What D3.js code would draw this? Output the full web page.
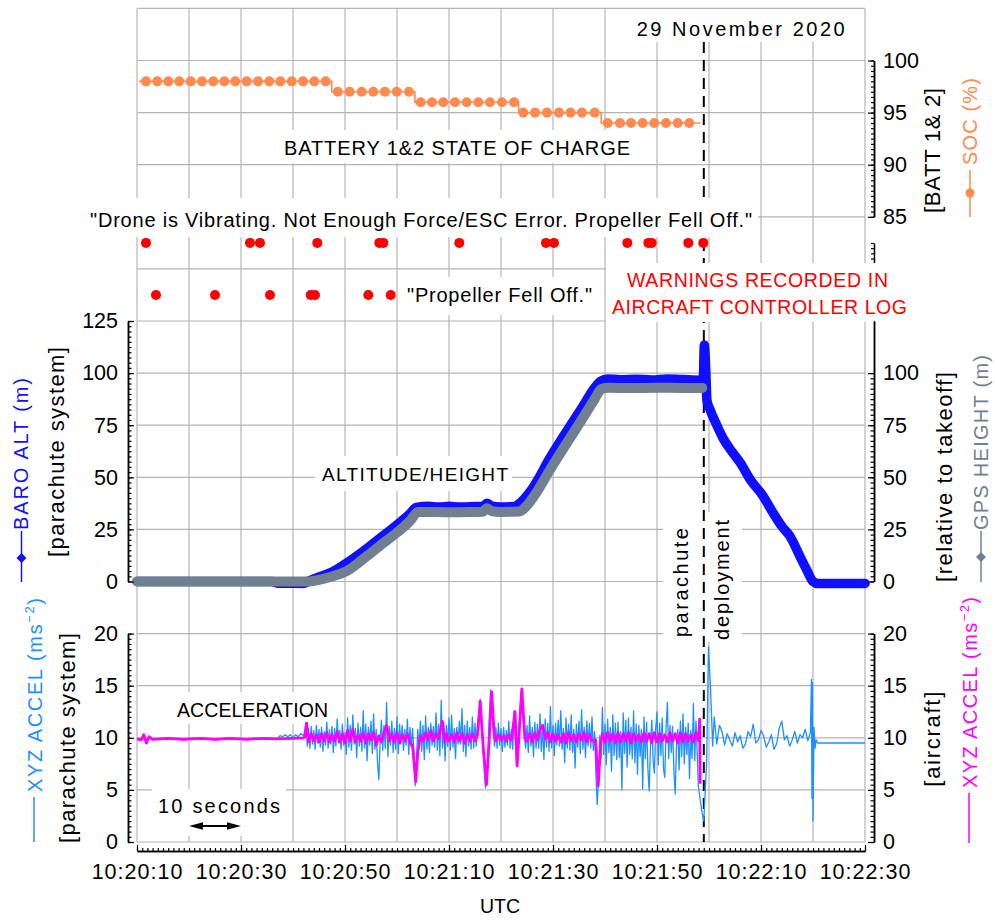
<!DOCTYPE html>
<html><head><meta charset="utf-8">
<script src="https://cdn.jsdelivr.net/npm/d3@7"></script>
<style>body{margin:0;background:#fff}svg{display:block}</style>
</head><body><svg id="c" width="995" height="920"></svg>
<script>
// ---------------- DATA (time in seconds after 10:20:10 UTC) ----------------
const timeTicks=[0,20,40,60,80,100,120,140];
const timeTickLabels=["10:20:10","10:20:30","10:20:50","10:21:10","10:21:30","10:21:50","10:22:10","10:22:30"];
const gridSeconds=[0,10,20,30,40,50,60,70,80,90,100,110,120,130,140];
const socTicks=[85,90,95,100];
const altTicksLeft=[0,25,50,75,100,125];
const altTicksRight=[0,25,50,75,100];
const accTicks=[0,5,10,15,20];
const socGrid=[80,85,90,95,100,105];
const altGrid=[-25,0,25,50,75,100,125];
const accGrid=[0,5,10,15];

// battery state of charge (%)
const socTimes=[1.73,3.90,6.02,8.13,10.33,12.5,14.67,16.79,18.90,21.09,23.27,25.44,27.56,29.75,31.92,34.10,36.29,
  38.6,40.9,43.2,45.44,47.69,49.94,52.31,
  54.56,56.73,58.9,61.15,63.4,65.63,67.88,70.19,72.5,
  74.29,76.54,78.85,81.15,83.37,85.58,88.02,
  90.52,92.88,95.0,97.25,99.48,101.73,103.98,106.21];
const socValues=[98,98,98,98,98,98,98,98,98,98,98,98,98,98,98,98,98,
  97,97,97,97,97,97,97,
  96,96,96,96,96,96,96,96,96,
  95,95,95,95,95,95,95,
  94,94,94,94,94,94,94,94];
const socLineStart=[0.4,98], socLineEnd=[108.3,94];

// warnings in aircraft controller log
const warnRows=["vibrating","propeller"];
const warnVibrating=[1.73,21.73,23.65,34.67,46.6,47.37,61.98,78.65,80.19,94.29,98.33,98.98,106.02,108.9];
const warnPropeller=[3.65,15.0,25.58,33.4,34.23,44.48,48.79];

// altitude / height (m)
const baroAlt=[[0,0],[26,0],[27,-0.8],[32,-0.9],[33,0.2],[35,2.2],[37.5,4.5],[40.4,9.0],[43.5,14.5],[46.7,20.8],[50,27.2],[52.5,32.5],[53.7,35.6],
  [56,36.1],[58,35.7],[60,36.1],[62,35.7],[64,35.9],[66.5,36.0],[67.3,37.5],[68.2,36.2],[70,35.8],[72.5,36.0],[74,38.5],[76,44.5],
  [79.4,59.3],[85.8,84.3],[88,93],[89.2,96.2],[90.5,97.2],[93,96.8],[96,97.1],[99,96.7],[102,97.2],[105,96.9],[108.4,96.6],
  [108.9,97],[109.1,113.5],[109.4,100],[109.6,87],[110.2,82.5],[111.5,75],[112.8,68.3],[114.5,62],[116,57],[117.9,49],[120.4,41],[122.3,33],
  [124,26.5],[125.6,21.6],[127.5,12],[128.8,5.5],[130,0],[131,-1],[140,-0.9]];
const gpsHeight=[[0,0],[32.7,0],[35,0.8],[37.5,2.4],[40.4,5.1],[43.5,10.8],[46.7,17.1],[50,23.5],[52.5,29],[54,33.3],
  [56,33.4],[60,33.2],[64,33.3],[66.5,33.5],[67.3,35.2],[68.2,33.8],[70,33.4],[73.5,33.6],[75,36.5],[76.5,41.5],
  [79.4,53.5],[85.8,78.7],[88,87.5],[89.3,92.3],[90.5,93.0],[95,92.8],[100,93.0],[105,92.9],[108.7,92.9]];

// acceleration (m/s^2), parachute system
const accelParachute=[[0,9.9],[27,9.9],[27.5,10.2],[28,10.1],[28.5,10.3],[29,10.1],[29.5,10.3],[30,10.0],[30.5,10.3],[31,10.1],[31.5,10.4],[32,10.2],
  [32.25,10.6],[32.5,11.4],[32.75,9.2],[33,10.9],[33.25,9.0],[33.5,11.1],[33.75,9.4],[34,10.7],
  [34.25,8.9],[34.5,11.2],[34.75,9.5],[35,10.8],[35.25,9.1],[35.5,11.0],[35.75,8.7],[36,10.6],
  [36.25,9.3],[36.5,11.5],[36.75,9.0],[37,10.8],[37.25,9.4],[37.5,11.1],[37.75,8.6],[38,10.9],
  [38.25,9.2],[38.5,11.8],[38.75,9.5],[39,10.7],[39.25,8.9],[39.5,11.3],[39.75,9.3],[40,10.5],
  [40.25,8.4],[40.5,11.9],[40.75,9.1],[41,11.2],[41.25,8.8],[41.5,12.2],[41.75,9.4],[42,10.9],
  [42.25,8.1],[42.5,11.4],[42.75,9.2],[43,11.0],[43.25,8.7],[43.5,12.6],[43.75,9.0],[44,11.3],
  [44.25,7.8],[44.5,11.0],[44.75,9.3],[45,11.6],[45.25,8.5],[45.5,12.3],[45.75,8.9],[46,10.8],
  [46.25,7.6],[46.5,6.0],[46.75,9.4],[47,11.7],[47.25,8.8],[47.5,11.2],[47.75,9.0],[48,13.4],
  [48.25,8.2],[48.5,11.1],[48.75,9.3],[49,11.6],[49.25,8.6],[49.5,10.9],[49.75,8.9],[50,12.0],
  [50.25,8.5],[50.5,11.3],[50.75,9.4],[51,11.2],[51.25,8.8],[51.5,10.8],[51.75,9.3],[52,11.8],
  [52.25,8.4],[52.5,11.0],[52.75,9.1],[53,10.9],[53.25,8.6],[53.5,5.4],[53.75,8.0],[54,10.8],
  [54.25,9.0],[54.5,11.6],[54.75,8.7],[55,11.2],[55.25,7.9],[55.5,12.1],[55.75,8.9],[56,11.0],
  [56.25,8.6],[56.5,11.4],[56.75,9.3],[57,11.1],[57.25,9.1],[57.5,12.4],[57.75,8.8],[58,11.3],
  [58.25,8.3],[58.5,13.6],[58.75,9.0],[59,11.5],[59.25,7.8],[59.5,11.2],[59.75,9.2],[60,11.9],
  [60.25,8.8],[60.5,12.2],[60.75,9.1],[61,10.9],[61.25,8.0],[61.5,11.0],[61.75,9.4],[62,11.6],
  [62.25,9.4],[62.5,12.8],[62.75,8.7],[63,11.2],[63.25,8.2],[63.5,11.6],[63.75,9.2],[64,11.0],
  [64.25,8.9],[64.5,12.0],[64.75,9.0],[65,11.4],[65.25,9.2],[65.5,11.3],[65.75,12.4],[66,13.7],
  [66.25,11.8],[66.5,9.5],[66.75,7.2],[67,5.2],[67.25,6.0],[67.5,8.5],[67.75,12.0],[68,14.6],
  [68.25,13.2],[68.5,10.8],[68.75,9.2],[69,11.0],[69.25,9.0],[69.5,11.4],[69.75,9.3],[70,10.9],
  [70.25,8.7],[70.5,11.0],[70.75,9.1],[71,10.7],[71.25,9.3],[71.5,11.6],[71.75,9.0],[72,10.8],
  [72.25,8.9],[72.5,12.6],[72.75,9.8],[73,7.3],[73.25,9.0],[73.5,11.0],[73.75,13.5],[74,14.7],
  [74.25,12.0],[74.5,10.0],[74.75,9.0],[75,11.2],[75.25,8.6],[75.5,12.1],[75.75,9.2],[76,11.0],
  [76.25,8.2],[76.5,11.5],[76.75,9.0],[77,11.3],[77.25,9.0],[77.5,12.3],[77.75,8.7],[78,11.1],
  [78.25,7.9],[78.5,11.8],[78.75,9.1],[79,11.4],[79.25,8.7],[79.5,13.0],[79.75,9.0],[80,11.2],
  [80.25,8.3],[80.5,11.4],[80.75,9.3],[81,11.7],[81.25,9.2],[81.5,12.6],[81.75,8.9],[82,10.9],
  [82.25,7.6],[82.5,11.9],[82.75,9.0],[83,11.3],[83.25,8.8],[83.5,12.2],[83.75,8.6],[84,10.8],
  [84.25,7.1],[84.5,11.3],[84.75,9.1],[85,11.6],[85.25,8.5],[85.5,12.7],[85.75,8.9],[86,11.0],
  [86.25,8.1],[86.5,11.6],[86.75,9.2],[87,11.4],[87.25,9.0],[87.5,12.0],[87.75,8.8],[88,10.6],
  [88.25,6.5],[88.5,3.6],[88.75,6.0],[89,10.2],[89.25,8.0],[89.5,12.9],[89.75,8.4],[90,11.3],
  [90.25,7.4],[90.5,11.8],[90.75,8.6],[91,11.0],[91.25,6.8],[91.5,12.2],[91.75,8.3],[92,11.4],
  [92.25,7.9],[92.5,11.5],[92.75,8.1],[93,10.6],[93.25,5.0],[93.5,12.4],[93.75,8.5],[94,11.7],
  [94.25,7.2],[94.5,11.9],[94.75,8.4],[95,11.0],[95.25,8.0],[95.5,12.6],[95.75,7.6],[96,11.3],
  [96.25,6.5],[96.5,11.2],[96.75,8.2],[97,10.8],[97.25,5.1],[97.5,12.0],[97.75,8.0],[98,11.5],
  [98.25,7.0],[98.5,4.9],[98.75,9.2],[99,11.7],[99.25,7.8],[99.5,6.6],[99.75,10.9],[100,12.5],
  [100.25,7.4],[100.5,11.4],[100.75,8.3],[101,11.9],[101.25,7.0],[101.5,6.2],[101.75,11.0],[102,13.4],
  [102.25,8.0],[102.5,11.2],[102.75,8.6],[103,11.1],[103.25,6.8],[103.5,4.6],[103.75,9.4],[104,10.8],
  [104.25,6.9],[104.5,11.6],[104.75,8.2],[105,12.3],[105.25,7.5],[105.5,11.0],[105.75,8.4],[106,11.4],
  [106.25,6.1],[106.5,10.7],[106.75,8.0],[107,13.3],[107.25,7.8],[107.5,11.6],[107.75,8.3],
  [107.95,5.4],[108.6,3.0],[109.0,2.0],[109.55,7.7],[109.9,18.7],[110.3,14.7],[110.7,9.2],
  [111,12.0],[111.5,9.4],[112,11.2],[112.5,10.6],[113,9.3],[113.5,10.4],[114,9.8],[114.5,9.2],[115,10.5],[115.5,9.6],[116,10.2],[116.5,9.0],[117,9.4],[117.5,10.6],[118,10.1],[118.5,11.3],
  [119,9.5],[119.5,9.8],[120,10.7],[120.5,10.2],[121,9.1],[121.5,9.6],[122,10.3],[122.5,8.9],[123,9.4],[123.5,10.9],[124,11.6],[124.5,9.8],[125,10.2],[125.5,9.2],[126,9.8],[126.5,10.6],
  [127,9.5],[127.5,10.3],[128,10.0],[128.5,10.8],[129,9.7],[129.5,10.5],[129.7,15.6],[129.8,4.2],[129.9,15.3],[130,2.0],[130.2,11.0],[130.4,9.0],[130.6,9.8],[130.9,9.5],[140,9.5]];
// acceleration (m/s^2), aircraft
const accelAircraft=[[0,9.9],[0.8,9.8],[1.3,10.3],[1.8,9.5],[2.3,10.1],[3,9.85],[6,9.95],[9,9.85],[12,9.95],[15,9.85],[18,9.95],[21,9.85],[24,9.95],[27,9.9],[30,9.95],[32,10.0],
  [32.3,10.1],[32.6,11.4],[33,9.6],[33.5,10.4],[34,9.7],[34.5,10.3],[35,9.6],[35.5,10.4],[36,9.7],[36.5,10.5],[37,9.6],[37.5,10.3],[38,9.7],[38.5,10.6],[39,9.6],[39.5,10.4],
  [40,9.5],[40.5,10.7],[41,9.7],[41.5,10.8],[42,9.6],[42.5,10.3],[43,9.7],[43.5,10.5],[44,9.5],[44.5,10.4],[45,9.8],[45.5,10.5],[46,9.3],[46.5,10.2],[47,9.6],[47.5,10.5],
  [48,11.2],[48.5,9.7],[49,10.4],[49.5,9.6],[50,10.5],[50.5,9.5],[51,10.3],[51.5,9.7],[52,10.4],[52.5,9.6],[53,9.2],[53.6,5.8],[54,8.6],[54.5,10.2],[55,9.7],[55.5,10.5],
  [56,9.8],[56.5,10.7],[57,9.7],[57.5,10.4],[58,9.9],[58.7,11.6],[59.2,9.6],[59.5,10.4],[60,9.7],[60.5,10.3],[61,9.6],[61.5,10.5],[62,9.7],[62.5,10.4],[63,9.5],[63.5,10.3],
  [64,9.7],[64.5,10.4],[65,9.7],[65.5,10.3],[66,13.5],[66.6,9.0],[67.2,5.5],[67.7,9.5],[68.2,14.4],[68.7,10.3],[69,9.7],[69.5,10.3],[70,9.8],[70.5,10.2],[71,9.7],[71.5,10.3],
  [72,9.8],[72.7,12.5],[73.1,7.3],[73.5,10.5],[74,14.7],[74.6,10.0],[75,9.7],[75.5,10.4],[76,9.6],[76.5,10.5],[77,9.8],[77.5,10.8],[78,11.2],[78.5,9.9],[79,10.5],[79.5,9.6],
  [80,10.4],[80.5,9.7],[81,10.3],[81.5,9.6],[82,10.4],[82.5,9.5],[83,10.5],[83.5,9.7],[84,10.3],[84.5,9.6],[85,10.4],[85.5,9.8],[86,10.5],[86.5,9.6],[87,10.3],[87.5,9.7],
  [88.2,9.8],[88.7,5.4],[89.2,9.6],[89.5,10.4],[90,9.6],[90.5,10.5],[91,9.7],[91.5,10.4],[92,9.5],[92.5,10.5],[93,9.6],[93.5,10.4],[94,9.7],[94.5,10.5],[95,9.5],[95.5,10.4],
  [96,9.7],[96.5,10.3],[97,9.6],[97.5,10.5],[98,9.7],[98.5,10.4],[99,9.5],[99.5,10.5],[100,9.6],[100.5,10.4],[101,9.7],[101.5,10.3],[102,9.6],[102.5,10.5],[103,9.7],[103.5,10.4],
  [104,9.5],[104.5,10.5],[105,9.6],[105.5,10.4],[106,9.7],[106.5,10.3],[107,9.6],[107.5,10.5],[108,9.7],[108.2,11.8],[108.3,5.6]];

const deployTime=109.0;
const scaleArrow=[10,20];

// ---------------- DRAWING ----------------
const FONT='"Liberation Sans", Arial, Helvetica, sans-serif';
const svg=d3.select("#c").attr("font-family",FONT);
const x=d3.scaleLinear().domain([0,140]).range([137,865]);
const ySoc=d3.scaleLinear().domain([85,100]).range([216.8,60.5]);
const yAlt=d3.scaleLinear().domain([0,125]).range([581.5,321]);
const yAcc=d3.scaleLinear().domain([0,20]).range([842,633.6]);
const yWarn=d3.scalePoint().domain(warnRows).range([242.9,295]);

const C={soc:"#ff8a50",warn:"#ff0000",baro:"#1010ff",gps:"#708090",accP:"#1e90ff",accA:"#ff00ff",grid:"#b4b4b4"};

// grid
const grid=svg.append("g").attr("stroke",C.grid).attr("stroke-width",1.2);
gridSeconds.forEach(s=>grid.append("line").attr("x1",x(s)).attr("x2",x(s)).attr("y1",ySoc(105)).attr("y2",yAcc(0)));
const hy=[...socGrid.map(ySoc),...altGrid.map(yAlt),...accGrid.map(yAcc)];
hy.forEach(y=>grid.append("line").attr("x1",x(0)).attr("x2",x(140)).attr("y1",y).attr("y2",y));

function box(x0,y0,x1,y1){svg.append("rect").attr("x",x0).attr("y",y0).attr("width",x1-x0).attr("height",y1-y0).attr("fill","#fff");}
box(663,512,742,642);

// deployment dashed line
svg.append("line").attr("x1",x(deployTime)).attr("x2",x(deployTime)).attr("y1",42).attr("y2",yAcc(0))
  .attr("stroke","#000").attr("stroke-width",2).attr("stroke-dasharray","11,7");

// text backgrounds
box(630,9,852,42);
box(275,130,640,163);
box(85,198,758,237);
box(400,277,598,315);
box(606,263,912,322);
box(315,456,512,491);
box(171,692,335,724);
box(152,789,286,836);

// ---- SOC
const socPts=socTimes.map((t,i)=>[t,socValues[i]]);
svg.append("path").datum([socLineStart,...socPts,socLineEnd])
  .attr("d",d3.line().x(d=>x(d[0])).y(d=>ySoc(d[1])).curve(d3.curveStep))
  .attr("fill","none").attr("stroke",C.soc).attr("stroke-width",1.6);
svg.append("g").selectAll("circle").data(socPts).join("circle")
  .attr("cx",d=>x(d[0])).attr("cy",d=>ySoc(d[1])).attr("r",5).attr("fill",C.soc);

// ---- warnings
const warnG=svg.append("g").attr("fill",C.warn);
warnVibrating.forEach(t=>warnG.append("circle").attr("cx",x(t)).attr("cy",yWarn("vibrating")).attr("r",5));
warnPropeller.forEach(t=>warnG.append("circle").attr("cx",x(t)).attr("cy",yWarn("propeller")).attr("r",5));

// ---- acceleration
const accLine=d3.line().x(d=>x(d[0])).y(d=>yAcc(d[1]));
svg.append("path").datum(accelParachute).attr("d",accLine).attr("fill","none").attr("stroke",C.accP).attr("stroke-width",1.3).attr("stroke-linejoin","round");
svg.append("path").datum(accelAircraft).attr("d",accLine).attr("fill","none").attr("stroke",C.accA).attr("stroke-width",2.8).attr("stroke-linejoin","round");

// ---- altitude
const altLine=d3.line().x(d=>x(d[0])).y(d=>yAlt(d[1])).curve(d3.curveMonotoneX);
svg.append("path").datum(baroAlt).attr("d",altLine).attr("fill","none").attr("stroke",C.baro).attr("stroke-width",9.5).attr("stroke-linejoin","round").attr("stroke-linecap","round");
svg.append("path").datum(gpsHeight).attr("d",altLine).attr("fill","none").attr("stroke",C.gps).attr("stroke-width",10).attr("stroke-linejoin","round").attr("stroke-linecap","round");

// ---- axes
function styleAxis(g,size){
  g.attr("font-family",FONT).attr("font-size",size||21.5);
  g.select(".domain").attr("stroke","#000").attr("stroke-width",1.5);
  g.selectAll(".tick line").attr("stroke","#000").attr("stroke-width",1.2);
  g.selectAll(".tick text").attr("fill","#000");
}
function minor(axisFn,scale,vals,len,tx,ty){
  const g=svg.append("g").attr("transform",`translate(${tx},${ty})`)
    .call(axisFn(scale).tickValues(vals).tickSize(-len).tickFormat("").tickSizeOuter(0));
  styleAxis(g);
}
function rangeStep(a,b,s){const r=[];for(let v=a;v<=b+1e-9;v+=s)r.push(+v.toFixed(3));return r;}

minor(d3.axisRight,ySoc,rangeStep(85,100,0.5),3,874,0);
styleAxis(svg.append("g").attr("transform","translate(874,0)").call(d3.axisRight(ySoc).tickValues(socTicks).tickSize(-6).tickPadding(9).tickSizeOuter(0)));
const yStub=d3.scaleLinear().domain([0,1]).range([300,243]);
styleAxis(svg.append("g").attr("transform","translate(874,0)").call(d3.axisRight(yStub).tickValues(rangeStep(0,1,0.0909)).tickSize(-3).tickFormat("").tickSizeOuter(0)));
svg.append("rect").attr("x",866).attr("y",263).attr("width",46).attr("height",59).attr("fill","#fff");

minor(d3.axisLeft,yAlt,rangeStep(0,125,2.5),3.5,128,0);
styleAxis(svg.append("g").attr("transform","translate(128,0)").call(d3.axisLeft(yAlt).tickValues(altTicksLeft).tickSize(-6).tickPadding(10).tickSizeOuter(0)));
minor(d3.axisRight,yAlt,rangeStep(0,100,2.5),3.5,874,0);
styleAxis(svg.append("g").attr("transform","translate(874,0)").call(d3.axisRight(yAlt).tickValues(altTicksRight).tickSize(-6).tickPadding(9).tickSizeOuter(0)));

minor(d3.axisLeft,yAcc,rangeStep(0,20,0.5),3.5,128,0);
styleAxis(svg.append("g").attr("transform","translate(128,0)").call(d3.axisLeft(yAcc).tickValues(accTicks).tickSize(-6).tickPadding(10).tickSizeOuter(0)));
minor(d3.axisRight,yAcc,rangeStep(0,20,0.5),3.5,874,0);
styleAxis(svg.append("g").attr("transform","translate(874,0)").call(d3.axisRight(yAcc).tickValues(accTicks).tickSize(-6).tickPadding(9).tickSizeOuter(0)));

minor(d3.axisBottom,x,rangeStep(0,140,1),3,0,851);
const xg=svg.append("g").attr("transform","translate(0,851)")
  .call(d3.axisBottom(x).tickValues(timeTicks).tickFormat((d,i)=>timeTickLabels[i]).tickSize(-6).tickPadding(13).tickSizeOuter(0));
styleAxis(xg,21.5);
xg.selectAll(".tick text").attr("letter-spacing","1px");

// ---- texts
function txt(str,x0,y0,o){
  o=o||{};
  const t=svg.append("text").attr("x",x0).attr("y",y0).attr("font-size",o.size||20).attr("fill",o.color||"#000").text(str);
  if(o.anchor)t.attr("text-anchor",o.anchor);
  if(o.len)t.attr("textLength",o.len).attr("lengthAdjust","spacing");
  return t;
}
function rtxt(str,x0,y0,o){
  o=o||{};
  const t=svg.append("text").attr("transform",`translate(${x0},${y0}) rotate(-90)`).attr("font-size",o.size||20).attr("fill",o.color||"#000").text(str);
  if(o.len)t.attr("textLength",o.len).attr("lengthAdjust","spacing");
  return t;
}
txt("29 November 2020",636.7,36,{len:208});
txt("BATTERY 1&2 STATE OF CHARGE",284,155,{len:346});
txt('"Drone is Vibrating. Not Enough Force/ESC Error. Propeller Fell Off."',90,226.5,{len:662});
txt('"Propeller Fell Off."',407,301.5,{len:185});
txt("WARNINGS RECORDED IN",627,286.7,{size:19.5,len:261,color:C.warn});
txt("AIRCRAFT CONTROLLER LOG",612,314.3,{size:19.5,len:295,color:C.warn});
txt("ALTITUDE/HEIGHT",322,481,{size:19,len:186});
txt("ACCELERATION",177,716.7,{size:19.5,len:151});
txt("10 seconds",158,813.3,{len:122});
txt("UTC",500,913,{size:19.5,anchor:"middle"});

rtxt("BARO ALT (m)",28.3,530,{color:C.baro,len:152});
rtxt("[parachute system]",63.5,557,{size:22,len:210});
rtxt("[parachute system]",75.4,843,{size:22,len:210});
rtxt("[relative to takeoff]",952,582,{size:22,len:210});
rtxt("GPS HEIGHT (m)",988,530,{color:C.gps,len:175});
rtxt("[aircraft]",940.4,786.7,{size:22,len:95});
rtxt("SOC (%)",977,165,{color:C.soc,len:87});
rtxt("[BATT 1& 2]",940.4,213,{size:22,len:125});
rtxt("parachute",688,637,{len:109});
rtxt("deployment",729,640,{len:120});

function accelLabel(x0,y0,color,len){
  const t=svg.append("text").attr("transform",`translate(${x0},${y0}) rotate(-90)`).attr("font-size",20).attr("fill",color)
    .attr("textLength",len).attr("lengthAdjust","spacing");
  t.append("tspan").text("XYZ ACCEL (ms");
  t.append("tspan").attr("dy",-8).attr("font-size",13).text("\u22122");
  t.append("tspan").attr("dy",8).text(")");
}
accelLabel(41.7,792,C.accP,194);
accelLabel(977,788,C.accA,191);

// legend glyphs
function vline(xx,y1,y2,color){svg.append("line").attr("x1",xx).attr("x2",xx).attr("y1",y1).attr("y2",y2).attr("stroke",color).attr("stroke-width",1.5);}
vline(21.5,582,531,C.baro);
svg.append("path").attr("d","M0,-5L5,0L0,5L-5,0Z").attr("transform","translate(21.5,558)").attr("fill",C.baro);
vline(981,582,531,C.gps);
svg.append("path").attr("d","M0,-5L5,0L0,5L-5,0Z").attr("transform","translate(981,557)").attr("fill",C.gps);
vline(34,842,797,C.accP);
vline(969,843,793,C.accA);
vline(970,217,170,C.soc);
svg.append("circle").attr("cx",970).attr("cy",193).attr("r",4.5).attr("fill",C.soc);

// 10-second arrow
const ax0=x(scaleArrow[0]), ax1=x(scaleArrow[1]), ay=826;
svg.append("line").attr("x1",ax0+6).attr("x2",ax1-6).attr("y1",ay).attr("y2",ay).attr("stroke","#000").attr("stroke-width",2);
svg.append("path").attr("d",`M${ax0},${ay}L${ax0+14},${ay-3.8}L${ax0+14},${ay+3.8}Z`).attr("fill","#000");
svg.append("path").attr("d",`M${ax1},${ay}L${ax1-14},${ay-3.8}L${ax1-14},${ay+3.8}Z`).attr("fill","#000");
</script></body></html>
